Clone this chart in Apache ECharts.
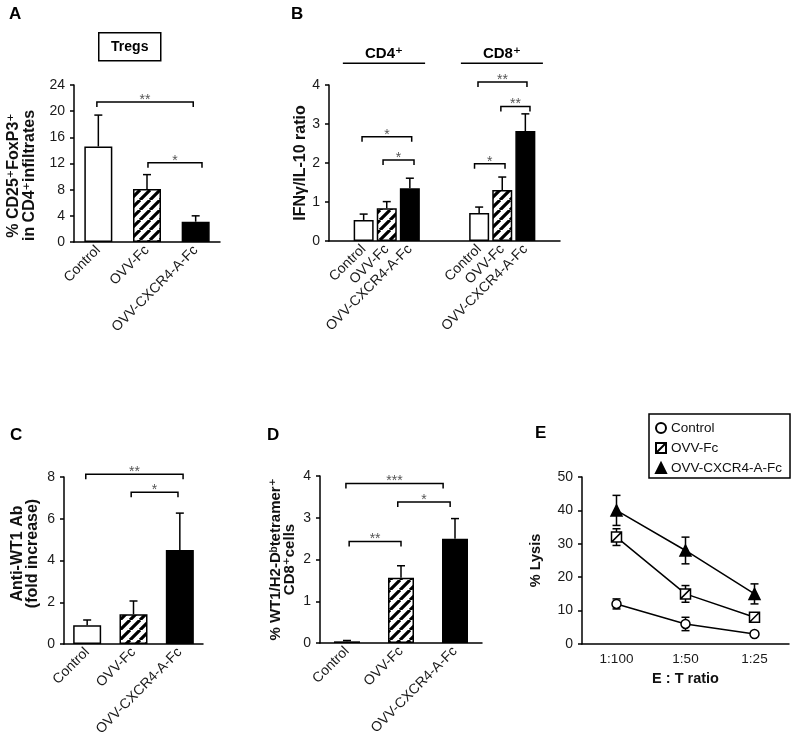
<!DOCTYPE html>
<html><head><meta charset="utf-8">
<script src="https://cdn.jsdelivr.net/npm/echarts@6/dist/echarts.min.js"></script>
<style>html,body{margin:0;padding:0;background:#fff}#c{width:800px;height:734px}</style>
</head><body><div id="c"></div>
<script>
// ---------- DATA ----------
// Panel A: % CD25+FoxP3+ in CD4+ infiltrates
const aCats = ['Control', 'OVV-Fc', 'OVV-CXCR4-A-Fc'];
const aVals = [14.6, 8.1, 3.1];
const aErrTop = [19.4, 10.3, 4.0];
const aTicks = [0, 4, 8, 12, 16, 20, 24];
const aBrackets = [[-0.03, 1.95, 21.4, '**'], [1.02, 2.13, 12.1, '*']];

// Panel B: IFNγ/IL-10 ratio (CD4+ / CD8+ groups, blank spacer slots)
const bCats = ['s0', 'CD4 Control', 'CD4 OVV-Fc', 'CD4 OVV-CXCR4-A-Fc', 's1', 's2', 'CD8 Control', 'CD8 OVV-Fc', 'CD8 OVV-CXCR4-A-Fc', 's3'];
const bLabels = ['', 'Control', 'OVV-Fc', 'OVV-CXCR4-A-Fc', '', '', 'Control', 'OVV-Fc', 'OVV-CXCR4-A-Fc', ''];
const bVals = [null, 0.54, 0.84, 1.35, null, null, 0.72, 1.31, 2.82, null];
const bErrTop = [null, 0.69, 1.01, 1.61, null, null, 0.87, 1.64, 3.26, null];
const bTicks = [0, 1, 2, 3, 4];
const bBrackets = [[0.93, 3.08, 2.67, '*'], [1.84, 3.18, 2.08, '*'], [5.8, 7.12, 1.98, '*'], [5.95, 8.07, 4.08, '**'], [6.94, 8.2, 3.45, '**']];
const bHeaders = [[0.1, 3.66, 4.56, 'CD4⁺'], [5.21, 8.76, 4.56, 'CD8⁺']];

// Panel C: Anti-WT1 Ab (fold increase)
const cCats = ['Control', 'OVV-Fc', 'OVV-CXCR4-A-Fc'];
const cVals = [0.9, 1.43, 4.5];
const cErrTop = [1.15, 2.06, 6.27];
const cTicks = [0, 2, 4, 6, 8];
const cBrackets = [[-0.03, 2.07, 8.13, '**'], [0.95, 1.96, 7.27, '*']];

// Panel D: % WT1/H2-Db tetramer+ CD8+ cells
const dCats = ['Control', 'OVV-Fc', 'OVV-CXCR4-A-Fc'];
const dVals = [0.04, 1.56, 2.5];
const dErrTop = [0.06, 1.85, 2.98];
const dTicks = [0, 1, 2, 3, 4];
const dBrackets = [[-0.02, 1.78, 3.82, '***'], [0.94, 1.91, 3.38, '*'], [0.04, 1.0, 2.43, '**']];

// Panel E: % Lysis vs E:T ratio
const eCats = ['1:100', '1:50', '1:25'];
const eControl = [12, 6, 3];
const eControlErr = [1.5, 2.0, 0.5];
const eOvvFc = [32, 15, 8];
const eOvvFcErr = [2.5, 2.5, 1.0];
const eCxcr4 = [40, 28, 15];
const eCxcr4Err = [4.5, 4.0, 3.0];
const eTicks = [0, 10, 20, 30, 40, 50];

// ---------- STYLE ----------
const FONT = '"Liberation Sans", Arial, "DejaVu Sans", sans-serif';
function makeHatch(size, lw) {
  const c = document.createElement('canvas');
  c.width = c.height = size;
  const g = c.getContext('2d');
  g.fillStyle = '#fff'; g.fillRect(0, 0, size, size);
  g.strokeStyle = '#000'; g.lineWidth = lw;
  g.beginPath();
  for (let k = -1; k <= 1; k++) { g.moveTo(k * size, size); g.lineTo(k * size + size, 0); }
  g.stroke();
  return c;
}
const hatch = { image: makeHatch(10, 3.2), repeat: 'repeat' };
const squareSlash = 'path://M0 0H10V10H0Z M0 10L10 0';
function fillFor(label) {
  if (label === 'Control') return '#fff';
  if (label === 'OVV-Fc') return hatch;
  return '#000';
}

const chart = echarts.init(document.getElementById('c'), null, { renderer: 'canvas' });

const grids = [
  { left: 74, top: 85, width: 146, height: 157 },
  { left: 329, top: 85, width: 231, height: 156 },
  { left: 64, top: 477, width: 139, height: 167 },
  { left: 320, top: 476, width: 162, height: 167 },
  { left: 582, top: 477, width: 207, height: 167 }
].map(g => Object.assign({ containLabel: false, outerBoundsMode: 'none' }, g));

const axisLineStyle = { show: true, lineStyle: { color: '#000', width: 1.5 } };

function catAxis(gi, cats, labels, rotate, extra) {
  return Object.assign({
    type: 'category', gridIndex: gi, data: cats, boundaryGap: true,
    axisLine: axisLineStyle, axisTick: { show: false }, splitLine: { show: false },
    axisLabel: {
      interval: 0, rotate: rotate, margin: 6, fontSize: 14, color: '#1a1a1a', fontFamily: FONT,
      formatter: (v, i) => labels[i], hideOverlap: false
    }
  }, extra || {});
}
function valAxis(gi, ticks, name, gap, fs, lh, pad) {
  return {
    type: 'value', gridIndex: gi, min: ticks[0], max: ticks[ticks.length - 1],
    interval: ticks[1] - ticks[0],
    axisLine: axisLineStyle,
    axisTick: { show: true, length: 4, lineStyle: { color: '#000', width: 1.5 } },
    splitLine: { show: false },
    axisLabel: { margin: 9, fontSize: 14, color: '#1a1a1a', fontFamily: FONT },
    name: name, nameLocation: 'middle', nameRotate: 90, nameGap: gap,
    nameTextStyle: { fontSize: fs, fontWeight: 'bold', color: '#111', fontFamily: FONT, lineHeight: lh, padding: pad }
  };
}

function barSeries(gi, vals, labels, width) {
  return {
    type: 'bar', xAxisIndex: gi, yAxisIndex: gi, barWidth: width, z: 2,
    data: vals.map((v, i) => v === null ? null : ({
      value: v,
      itemStyle: { color: fillFor(labels[i]), borderColor: '#000', borderWidth: 1.5 }
    }))
  };
}
function errSeries(gi, vals, tops) {
  const data = [];
  vals.forEach((v, i) => { if (v !== null) data.push([i, v, tops[i]]); });
  return {
    type: 'custom', xAxisIndex: gi, yAxisIndex: gi, z: 3, silent: true,
    data: data, encode: { x: 0, y: [1, 2] },
    renderItem(params, api) {
      const p0 = api.coord([api.value(0), api.value(1)]);
      const p1 = api.coord([api.value(0), api.value(2)]);
      const st = { stroke: '#000', lineWidth: 1.5 };
      return { type: 'group', children: [
        { type: 'line', shape: { x1: p0[0], y1: p0[1], x2: p1[0], y2: p1[1] }, style: st },
        { type: 'line', shape: { x1: p1[0] - 4, y1: p1[1], x2: p1[0] + 4, y2: p1[1] }, style: st }
      ] };
    }
  };
}
function bracketSeries(gi, list) {
  return {
    type: 'custom', xAxisIndex: gi, yAxisIndex: gi, z: 4, silent: true, clip: false,
    data: list.map(b => [0, b[2]]), encode: { x: 0, y: 1 },
    renderItem(params, api) {
      const b = list[params.dataIndex];
      const band = api.size([1, 0])[0];
      const c0 = api.coord([0, b[2]]);
      const x1 = c0[0] + b[0] * band, x2 = c0[0] + b[1] * band, y = c0[1];
      const st = { stroke: '#000', lineWidth: 1.5, fill: null };
      return { type: 'group', children: [
        { type: 'polyline', shape: { points: [[x1, y + 5], [x1, y], [x2, y], [x2, y + 5]] }, style: st },
        { type: 'text', style: { text: b[3], x: (x1 + x2) / 2, y: y - 2, align: 'center', verticalAlign: 'middle',
            fill: '#555', font: '14px ' + FONT } }
      ] };
    }
  };
}
function headerSeries(gi, list) {
  return {
    type: 'custom', xAxisIndex: gi, yAxisIndex: gi, z: 4, silent: true, clip: false,
    data: list.map(b => [0, b[2]]), encode: { x: 0, y: 1 },
    renderItem(params, api) {
      const b = list[params.dataIndex];
      const band = api.size([1, 0])[0];
      const c0 = api.coord([0, b[2]]);
      const x1 = c0[0] + b[0] * band, x2 = c0[0] + b[1] * band, y = c0[1];
      return { type: 'group', children: [
        { type: 'line', shape: { x1: x1, y1: y, x2: x2, y2: y }, style: { stroke: '#000', lineWidth: 1.5 } },
        { type: 'text', style: { text: b[3], x: (x1 + x2) / 2, y: y - 2, align: 'center', verticalAlign: 'bottom',
            fill: '#000', font: 'bold 15px ' + FONT } }
      ] };
    }
  };
}
function lineErrSeries(vals, errs) {
  return {
    type: 'custom', xAxisIndex: 4, yAxisIndex: 4, z: 2, silent: true,
    data: vals.map((v, i) => [i, v - errs[i], v + errs[i]]), encode: { x: 0, y: [1, 2] },
    renderItem(params, api) {
      const lo = api.coord([api.value(0), api.value(1)]);
      const hi = api.coord([api.value(0), api.value(2)]);
      const st = { stroke: '#000', lineWidth: 1.5 };
      return { type: 'group', children: [
        { type: 'line', shape: { x1: lo[0], y1: lo[1], x2: hi[0], y2: hi[1] }, style: st },
        { type: 'line', shape: { x1: hi[0] - 4, y1: hi[1], x2: hi[0] + 4, y2: hi[1] }, style: st },
        { type: 'line', shape: { x1: lo[0] - 4, y1: lo[1], x2: lo[0] + 4, y2: lo[1] }, style: st }
      ] };
    }
  };
}
function lineSeries(name, vals, symbol, size, color) {
  return {
    type: 'line', name: name, xAxisIndex: 4, yAxisIndex: 4, data: vals, z: 5,
    symbol: symbol, symbolSize: size, showAllSymbol: true,
    lineStyle: { color: '#000', width: 1.5 },
    itemStyle: { color: color, borderColor: '#000', borderWidth: 1.5 }
  };
}

const letterStyle = { fontSize: 17, fontWeight: 'bold', color: '#000', fontFamily: FONT };

const option = {
  animation: false,
  backgroundColor: '#fff',
  title: [
    { text: 'A', left: 9, top: 6, textStyle: letterStyle, padding: 0 },
    { text: 'B', left: 291, top: 6, textStyle: letterStyle, padding: 0 },
    { text: 'C', left: 10, top: 427, textStyle: letterStyle, padding: 0 },
    { text: 'D', left: 267, top: 427, textStyle: letterStyle, padding: 0 },
    { text: 'E', left: 535, top: 425, textStyle: letterStyle, padding: 0 }
  ],
  graphic: [
    { type: 'group', left: 98, top: 32, children: [
      { type: 'rect', shape: { x: 0, y: 0, width: 62, height: 28 }, style: { fill: '#fff', stroke: '#000', lineWidth: 1.5 } },
      { type: 'text', style: { text: 'Tregs', x: 31, y: 14, align: 'center', verticalAlign: 'middle', font: 'bold 14px ' + FONT, fill: '#000' } }
    ] }
  ],
  legend: {
    orient: 'vertical', left: 649, top: 414,
    borderColor: '#000', borderWidth: 1.5, padding: [7, 8, 3, 6], itemGap: 6,
    itemWidth: 10, itemHeight: 10,
    textStyle: { fontSize: 13.5, color: '#111', fontFamily: FONT },
    data: [
      { name: 'Control', icon: 'circle' },
      { name: 'OVV-Fc', icon: squareSlash },
      { name: 'OVV-CXCR4-A-Fc', icon: 'triangle' }
    ]
  },
  grid: grids,
  xAxis: [
    catAxis(0, aCats, aCats, 45),
    catAxis(1, bCats, bLabels, 45),
    catAxis(2, cCats, cCats, 45),
    catAxis(3, dCats, dCats, 45),
    catAxis(4, eCats, eCats, 0, {
      axisLabel: { interval: 0, margin: 8, fontSize: 13.5, color: '#1a1a1a', fontFamily: FONT },
      name: 'E : T ratio', nameLocation: 'middle', nameGap: 27,
      nameTextStyle: { fontSize: 14.5, fontWeight: 'bold', color: '#111', fontFamily: FONT }
    })
  ],
  yAxis: [
    valAxis(0, aTicks, '% CD25⁺FoxP3⁺\nin CD4⁺infiltrates', 36, 16, 16, [0, 24, 0, 0]),
    valAxis(1, bTicks, 'IFNγ/IL-10 ratio', 18, 16, 16, 0),
    valAxis(2, cTicks, 'Anti-WT1 Ab\n(fold increase)', 24, 16, 15, [0, 0, 0, 14]),
    valAxis(3, dTicks, '% WT1/H2-Dᵇtetramer⁺\nCD8⁺cells', 23, 15, 14, 0),
    valAxis(4, eTicks, '% Lysis', 39, 14.5, 15, 0)
  ],
  series: [
    barSeries(0, aVals, aCats, 28), errSeries(0, aVals, aErrTop), bracketSeries(0, aBrackets),
    barSeries(1, bVals, bLabels, 20), errSeries(1, bVals, bErrTop), bracketSeries(1, bBrackets), headerSeries(1, bHeaders),
    barSeries(2, cVals, cCats, 28), errSeries(2, cVals, cErrTop), bracketSeries(2, cBrackets),
    barSeries(3, dVals, dCats, 26), errSeries(3, dVals, dErrTop), bracketSeries(3, dBrackets),
    lineErrSeries(eControl, eControlErr), lineErrSeries(eOvvFc, eOvvFcErr), lineErrSeries(eCxcr4, eCxcr4Err),
    lineSeries('Control', eControl, 'circle', 9, '#fff'),
    lineSeries('OVV-Fc', eOvvFc, squareSlash, 10, '#fff'),
    lineSeries('OVV-CXCR4-A-Fc', eCxcr4, 'triangle', 11, '#000')
  ]
};
chart.setOption(option);
</script></body></html>
